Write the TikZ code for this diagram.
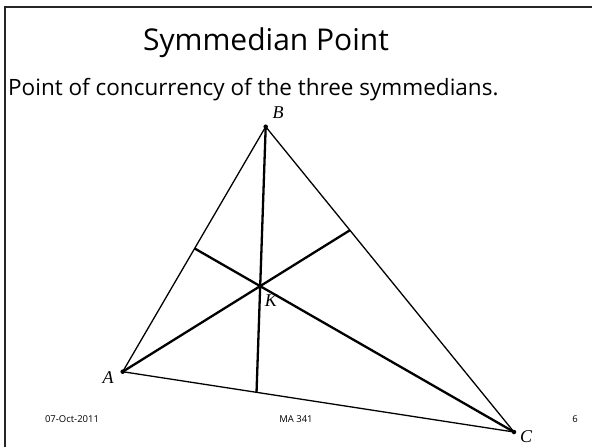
\documentclass[tikz,border=0pt]{standalone}
\usepackage{fontspec}
\setmainfont{Open Sans}
\newfontfamily\ptfont{Liberation Serif}

\begin{document}
\begin{tikzpicture}[x=1pt, y=-1pt,
  side/.style={line width=1.3pt},
  symline/.style={line width=2.3pt},
  vtx/.style={circle, fill, inner sep=0pt, minimum size=4.5pt},
  lbl/.style={font=\ptfont\itshape\fontsize{18}{18}\selectfont, inner sep=1pt},
  foot/.style={font=\fontsize{9.5}{9.5}\selectfont, anchor=base, inner sep=0pt}]

  \useasboundingbox (0,0) rectangle (592,447);

  % slide frame
  \draw[line width=2pt, black!85] (5,447) -- (5,7) -- (592,7);

  % heading
  \node[font=\fontsize{30}{30}\selectfont, anchor=base, inner sep=0pt] (title) at (266,50) {Symmedian Point};
  \node[font=\fontsize{22.5}{22.5}\selectfont, anchor=base west, inner sep=0pt] (sub) at (8,95)
    {Point of concurrency of the three symmedians.};

  % triangle
  \node[vtx] (A) at (122.7,371.7) {};
  \node[vtx] (B) at (265.7,126.7) {};
  \node[vtx] (C) at (514,432) {};
  \draw[side] (A.center) -- (B.center) -- (C.center) -- cycle;

  % symmedian point and feet, weights a^2, b^2, c^2
  \coordinate (K) at (barycentric cs:A=1.549,B=1.568,C=0.805);
  \coordinate (Da) at (barycentric cs:B=1.568,C=0.805);
  \coordinate (Db) at (barycentric cs:A=1.549,C=0.805);
  \coordinate (Dc) at (barycentric cs:A=1.549,B=1.568);
  \draw[symline] (A.center) -- (Da);
  \draw[symline] (B.center) -- (Db);
  \draw[symline] (C.center) -- (Dc);

  % labels
  \node[lbl] (la) at (108,378) {A};
  \node[lbl] (lb) at (278,113) {B};
  \node[lbl] (lc) at (526,437) {C};
  \node[lbl] (lk) at (271,301) {K};

  % footer
  \node[foot] (date) at (72,422) {07-Oct-2011};
  \node[foot] (course) at (296,422) {MA 341};
  \node[foot] (page) at (575,422) {6};

\end{tikzpicture}
\end{document}
